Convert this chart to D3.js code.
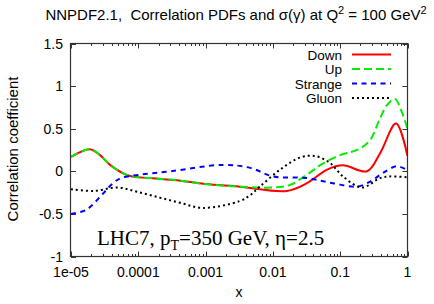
<!DOCTYPE html>
<html>
<head>
<meta charset="utf-8">
<script src="https://cdn.jsdelivr.net/npm/d3@7"></script>
<style>
  body { margin: 0; background: #fff; }
  svg text { white-space: pre; }
</style>
</head>
<body>
<svg id="chart" width="434" height="304" font-family="'Liberation Sans', Arial, sans-serif" font-size="14"></svg>
<script>
// --- Data ---
const xTicks = [1e-5, 1e-4, 1e-3, 1e-2, 1e-1, 1];
const xTickLabels = ["1e-05", "0.0001", "0.001", "0.01", "0.1", "1"];
const yTicks = [-1, -0.5, 0, 0.5, 1, 1.5];
const yTickLabels = ["-1", "-0.5", "0", "0.5", "1", "1.5"];

const downX = [1e-5, 1.9e-5, 2.7e-5, 3.8e-5, 7.1e-5, 1.5e-4, 4.2e-4, 1e-3, 3.2e-3, 0.0162, 0.032, 0.064, 0.11, 0.25, 0.39, 0.675, 1];
const downY = [0.17, 0.26, 0.19, 0.075, -0.05, -0.08, -0.11, -0.15, -0.18, -0.23, -0.14, 0.02, 0.07, 0.0, 0.21, 0.56, 0.18];

const upX = [1e-5, 1.9e-5, 2.7e-5, 3.8e-5, 7.1e-5, 1.5e-4, 4.2e-4, 1e-3, 3.2e-3, 0.01, 0.018, 0.032, 0.055, 0.1, 0.15, 0.2, 0.28, 0.39, 0.5, 0.65, 0.8, 1];
const upY = [0.17, 0.26, 0.19, 0.075, -0.05, -0.08, -0.11, -0.15, -0.18, -0.19, -0.16, -0.04, 0.09, 0.19, 0.23, 0.27, 0.37, 0.62, 0.78, 0.85, 0.72, 0.5];

const strangeX = [1e-5, 1.7e-5, 3e-5, 4.2e-5, 5.5e-5, 1.06e-4, 3e-4, 1.8e-3, 4.6e-3, 0.01, 0.032, 0.078, 0.178, 0.28, 0.43, 0.7, 1];
const strangeY = [-0.5, -0.45, -0.26, -0.14, -0.08, -0.04, 0.0, 0.075, 0.04, -0.06, -0.08, -0.14, -0.18, -0.12, -0.02, 0.06, 0.01];

const gluonX = [1e-5, 2.2e-5, 4.9e-5, 9.6e-5, 2.1e-4, 4.2e-4, 9.1e-4, 3.2e-3, 4.6e-3, 6.4e-3, 0.0128, 0.025, 0.042, 0.07, 0.11, 0.21, 0.39, 0.55, 1];
const gluonY = [-0.21, -0.23, -0.19, -0.24, -0.31, -0.37, -0.43, -0.35, -0.28, -0.18, 0.02, 0.16, 0.18, 0.1, -0.06, -0.19, -0.08, -0.06, -0.07];

const series = [
  { name: "Down", xs: downX, ys: downY, color: "#ff0000", dash: null },
  { name: "Up", xs: upX, ys: upY, color: "#00ee00", dash: "8,4" },
  { name: "Strange", xs: strangeX, ys: strangeY, color: "#0000ff", dash: "5,4.5" },
  { name: "Gluon", xs: gluonX, ys: gluonY, color: "#000000", dash: "2,3" }
];

// --- Layout ---
const plotLeft = 71, plotRight = 407.5, plotTop = 43.5, plotBottom = 256.5;
const svg = d3.select("#chart");

const x = d3.scaleLog().domain([1e-5, 1]).range([plotLeft, plotRight]);
const y = d3.scaleLinear().domain([-1, 1.5]).range([plotBottom, plotTop]);

svg.append("defs").append("clipPath").attr("id", "plot-clip")
  .append("rect")
  .attr("x", plotLeft).attr("y", plotTop)
  .attr("width", plotRight - plotLeft).attr("height", plotBottom - plotTop);

// Title
const title = svg.append("text")
  .attr("x", 236).attr("y", 20)
  .attr("text-anchor", "middle")
  .attr("font-size", 15);
title.append("tspan").text("NNPDF2.1,  Correlation PDFs and σ(γ) at Q");
title.append("tspan").attr("dy", -6).attr("font-size", 11).text("2");
title.append("tspan").attr("dy", 6).text(" = 100 GeV");
title.append("tspan").attr("dy", -6).attr("font-size", 11).text("2");

// Ticks (inward, on all sides)
const tickG = svg.append("g").attr("stroke", "#333").attr("stroke-width", 1);
xTicks.forEach(t => {
  const px = Math.round(x(t)) + 0.5;
  tickG.append("line").attr("x1", px).attr("x2", px).attr("y1", plotBottom).attr("y2", plotBottom - 5);
  tickG.append("line").attr("x1", px).attr("x2", px).attr("y1", plotTop).attr("y2", plotTop + 5);
});
xTicks.slice(0, -1).forEach(t => {
  d3.range(2, 10).forEach(m => {
    const px = Math.round(x(t * m)) + 0.5;
    tickG.append("line").attr("x1", px).attr("x2", px).attr("y1", plotBottom).attr("y2", plotBottom - 2.5);
    tickG.append("line").attr("x1", px).attr("x2", px).attr("y1", plotTop).attr("y2", plotTop + 2.5);
  });
});
yTicks.forEach(t => {
  const py = Math.round(y(t)) + 0.5;
  tickG.append("line").attr("x1", plotLeft).attr("x2", plotLeft + 5).attr("y1", py).attr("y2", py);
  tickG.append("line").attr("x1", plotRight).attr("x2", plotRight - 5).attr("y1", py).attr("y2", py);
});

// Tick labels
svg.append("g").selectAll("text")
  .data(xTicks)
  .join("text")
  .attr("x", d => x(d))
  .attr("y", 277)
  .attr("text-anchor", "middle")
  .text((d, i) => xTickLabels[i]);

svg.append("g").selectAll("text")
  .data(yTicks)
  .join("text")
  .attr("x", 63)
  .attr("y", d => y(d) + 5)
  .attr("text-anchor", "end")
  .text((d, i) => yTickLabels[i]);

// Axis titles
svg.append("text")
  .attr("x", 239).attr("y", 297)
  .attr("text-anchor", "middle")
  .text("x");

svg.append("text")
  .attr("transform", "translate(18,149) rotate(-90)")
  .attr("text-anchor", "middle")
  .attr("font-size", 15)
  .text("Correlation coefficient");

// Curves
const line = d3.line()
  .x(d => x(d[0]))
  .y(d => y(d[1]))
  .curve(d3.curveCatmullRom.alpha(0.5));

const plot = svg.append("g").attr("clip-path", "url(#plot-clip)");
series.forEach(s => {
  const pts = s.xs.map((v, i) => [v, s.ys[i]]);
  plot.append("path")
    .datum(pts)
    .attr("d", line)
    .attr("fill", "none")
    .attr("stroke", s.color)
    .attr("stroke-width", 2)
    .attr("stroke-dasharray", s.dash);
});

// Legend
const legendRows = [54.5, 69, 83.5, 98];
series.forEach((s, i) => {
  svg.append("text")
    .attr("x", 342).attr("y", legendRows[i] + 5)
    .attr("text-anchor", "end")
    .attr("font-size", 13.5)
    .text(s.name);
  svg.append("line")
    .attr("x1", 352).attr("x2", 391)
    .attr("y1", legendRows[i]).attr("y2", legendRows[i])
    .attr("stroke", s.color)
    .attr("stroke-width", 2)
    .attr("stroke-dasharray", s.dash);
});

// Annotation
const ann = svg.append("text")
  .attr("x", 97).attr("y", 245)
  .attr("font-family", "'Liberation Serif', 'Times New Roman', serif")
  .attr("font-size", 21);
ann.append("tspan").text("LHC7, p");
ann.append("tspan").attr("dy", 5).attr("font-size", 14).text("T");
ann.append("tspan").attr("dy", -5).text("=350 GeV, η=2.5");

// Frame
svg.append("rect")
  .attr("x", 70.5).attr("y", plotTop)
  .attr("width", plotRight - 70.5).attr("height", plotBottom - plotTop)
  .attr("fill", "none")
  .attr("stroke", "#333")
  .attr("stroke-width", 1.2);
</script>
</body>
</html>
